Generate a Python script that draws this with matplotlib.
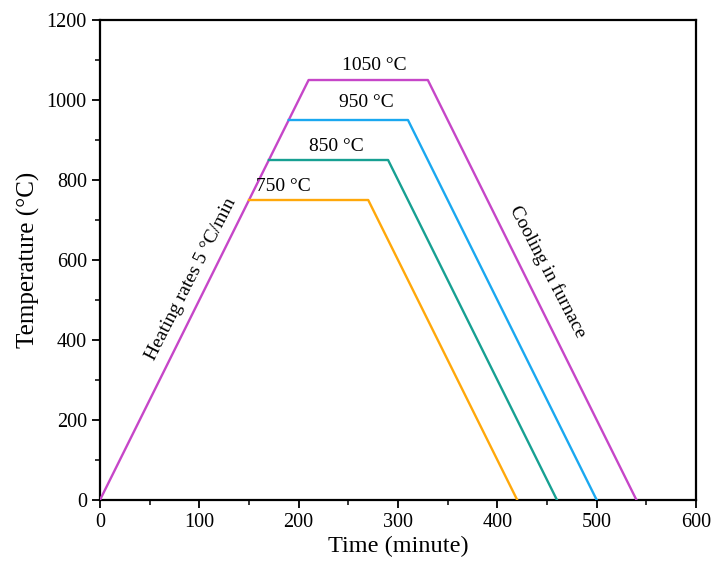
import matplotlib
matplotlib.use("Agg")
import matplotlib.pyplot as plt
import numpy as np
from matplotlib.ticker import MultipleLocator

plt.rcParams['font.family'] = ['Liberation Serif', 'DejaVu Serif']
plt.rcParams['mathtext.fontset'] = 'stix'

# Temperature profiles (time in minutes, temperature in °C)
labels = ["1050 °C", "950 °C", "850 °C", "750 °C"]
colors = ["#C646C8", "#1AA8F0", "#17A092", "#FFA80A"]
times = [
    [0, 210, 330, 540],
    [190, 310, 500],
    [170, 290, 460],
    [150, 270, 420],
]
temps = [
    [0, 1050, 1050, 0],
    [950, 950, 0],
    [850, 850, 0],
    [750, 750, 0],
]
label_pos = [(276, 1086), (268, 994), (238, 884), (185, 784)]

fig = plt.figure(figsize=(7.11, 5.72), dpi=100)
ax = fig.add_axes([0.1406, 0.1259, 0.8384, 0.8391])

for t, T, c in zip(times, temps, colors):
    ax.plot(t, T, color=c, lw=1.7, zorder=3)

for lab, (x, y) in zip(labels, label_pos):
    ax.text(x, y, lab, ha='center', va='center', fontsize=14)

ax.text(92, 552, "Heating rates 5 °C/min", rotation=63, ha='center', va='center',
        fontsize=14, rotation_mode='anchor')
ax.text(451, 570, "Cooling in furnace", rotation=-62.5, ha='center', va='center',
        fontsize=14, rotation_mode='anchor')

ax.set_xlim(0, 600)
ax.set_ylim(0, 1200)
ax.xaxis.set_major_locator(MultipleLocator(100))
ax.xaxis.set_minor_locator(MultipleLocator(50))
ax.yaxis.set_major_locator(MultipleLocator(200))
ax.yaxis.set_minor_locator(MultipleLocator(100))
ax.tick_params(which='major', direction='out', length=6, width=1.3, labelsize=14.5,
               top=False, right=False)
ax.tick_params(which='minor', direction='out', length=3.5, width=1.1,
               top=False, right=False)
for s in ax.spines.values():
    s.set_linewidth(1.6)

ax.set_xlabel("Time (minute)", fontsize=17.5, labelpad=3)
ax.set_ylabel("Temperature (°C)", fontsize=18, labelpad=5)

fig.savefig("out.png", dpi=100)
